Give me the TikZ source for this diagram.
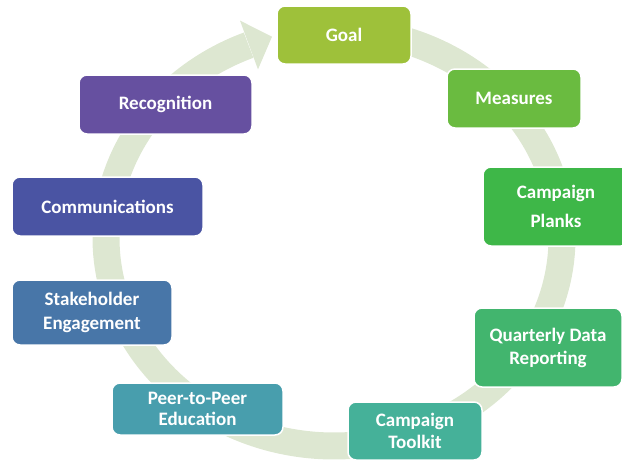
\documentclass[tikz,border=0pt]{standalone}
\usepackage{fontspec}
\setmainfont{Carlito}
\definecolor{ringc}{RGB}{221,231,209}
\definecolor{cGoal}{RGB}{158,193,58}
\definecolor{cMeas}{RGB}{106,187,64}
\definecolor{cPlank}{RGB}{62,183,72}
\definecolor{cQuart}{RGB}{66,181,110}
\definecolor{cTool}{RGB}{69,177,153}
\definecolor{cPeer}{RGB}{72,158,173}
\definecolor{cStake}{RGB}{72,118,168}
\definecolor{cComm}{RGB}{74,84,163}
\definecolor{cRecog}{RGB}{102,80,160}
\begin{document}
\begin{tikzpicture}[x=1pt,y=-1pt,
  box/.style={draw=white, line width=1.5pt, rounded corners=8pt, text=white,
    font=\bfseries\fontsize{19}{23}\selectfont, align=center, inner sep=0pt},
  ringline/.style={draw=ringc, line width=27pt}]
\useasboundingbox (0,0) rectangle (622,461);
\clip (0,0) rectangle (622,461);
% ring arrow
\draw[ringline] plot[domain=-248:72, samples=160, smooth] ({334+228*cos(\x)},{238-208*sin(\x)});
\coordinate (barbA) at (240,20.6);
\coordinate (tipA) at (272,36.7);
\coordinate (barbB) at (258,69.4);
\fill[ringc] (barbA) -- (tipA) -- (barbB) -- cycle;
% boxes
\node[box, fill=cGoal, minimum width=134pt, minimum height=58pt] (goal) at (344,35) {Goal};
\node[box, fill=cMeas, minimum width=134pt, minimum height=59pt] (meas) at (514,98.5) {Measures};
\node[box, fill=cPlank, minimum width=146pt, minimum height=79pt, font=\bfseries\fontsize{19}{29}\selectfont] (plank) at (556,206.5) {Campaign\\Planks};
\node[box, fill=cQuart, minimum width=148pt, minimum height=79pt] (quart) at (548,347.5) {Quarterly Data\\Reporting};
\node[box, fill=cTool, minimum width=134pt, minimum height=58pt, font=\bfseries\fontsize{19}{21.5}\selectfont] (tool) at (415,431) {Campaign\\Toolkit};
\node[box, fill=cPeer, minimum width=171pt, minimum height=52pt, font=\bfseries\fontsize{19}{21}\selectfont] (peer) at (197.5,409) {Peer-to-Peer\\Education};
\node[box, fill=cStake, minimum width=160pt, minimum height=65pt, font=\bfseries\fontsize{19}{24}\selectfont] (stake) at (92,312.5) {Stakeholder\\Engagement};
\node[box, fill=cComm, minimum width=191pt, minimum height=59pt] (comm) at (107.5,206.5) {Communications};
\node[box, fill=cRecog, minimum width=173pt, minimum height=59pt] (recog) at (165.5,104.5) {Recognition};
\end{tikzpicture}
\end{document}
